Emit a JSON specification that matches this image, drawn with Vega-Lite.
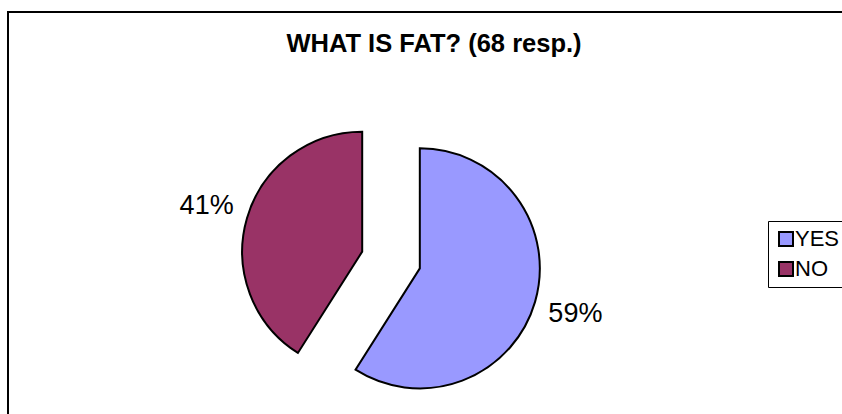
{
  "$schema": "https://vega.github.io/schema/vega-lite/v6.json",
  "width": 840,
  "height": 410,
  "padding": {"left": 8, "top": 12, "right": 0, "bottom": 0},
  "background": "white",
  "title": {
    "text": "WHAT IS FAT? (68 resp.)",
    "font": "Liberation Sans",
    "fontSize": 25.5,
    "fontWeight": "bold",
    "color": "black",
    "anchor": "middle",
    "baseline": "alphabetic",
    "offset": -62,
    "dx": 6,
    "dy": 3
  },
  "data": {
    "values": [
      {"answer": "YES", "share": 0.59},
      {"answer": "NO", "share": 0.41}
    ]
  },
  "transform": [
    {"window": [{"op": "sum", "field": "share", "as": "cum"}], "sort": [{"field": "share", "order": "descending"}]},
    {"calculate": "datum.cum - datum.share", "as": "start"},
    {"calculate": "datum.cum - datum.share / 2", "as": "middle"},
    {"calculate": "sin(datum.middle * 2 * PI)", "as": "ex"},
    {"calculate": "cos(datum.middle * 2 * PI)", "as": "ey"}
  ],
  "encoding": {
    "x": {"field": "ex", "type": "quantitative", "scale": {"domain": [-12.767, 15.233], "nice": false, "zero": false}, "axis": null},
    "y": {"field": "ey", "type": "quantitative", "scale": {"domain": [-5.4, 8.267], "nice": false, "zero": false}, "axis": null}
  },
  "layer": [
    {
      "mark": {"type": "arc", "outerRadius": 120, "stroke": "black", "strokeWidth": 2},
      "encoding": {
        "theta": {"field": "start", "type": "quantitative", "scale": {"domain": [0, 1], "range": [0, 6.283185307179586]}},
        "theta2": {"field": "cum"},
        "color": {
          "field": "answer",
          "type": "nominal",
          "scale": {"domain": ["YES", "NO"], "range": ["#9999FF", "#993366"]},
          "legend": {
            "orient": "none",
            "legendX": 760,
            "legendY": 209,
            "title": null,
            "strokeColor": "black",
            "fillColor": "white",
            "padding": 7,
            "symbolType": "square",
            "symbolSize": 196,
            "symbolStrokeColor": "black",
            "symbolStrokeWidth": 2,
            "labelFont": "Liberation Sans",
            "labelFontSize": 22,
            "labelColor": "black",
            "labelOffset": -2,
            "rowPadding": 8
          }
        }
      }
    },
    {
      "mark": {"type": "text", "radius": 162, "font": "Liberation Sans", "fontSize": 27, "color": "black", "align": "center", "baseline": "middle"},
      "encoding": {
        "theta": {"field": "middle", "type": "quantitative", "scale": {"domain": [0, 1], "range": [0, 6.283185307179586]}},
        "text": {"field": "share", "type": "quantitative", "format": ".0%"}
      }
    }
  ],
  "config": {
    "view": {"stroke": "black", "strokeWidth": 2}
  }
}
